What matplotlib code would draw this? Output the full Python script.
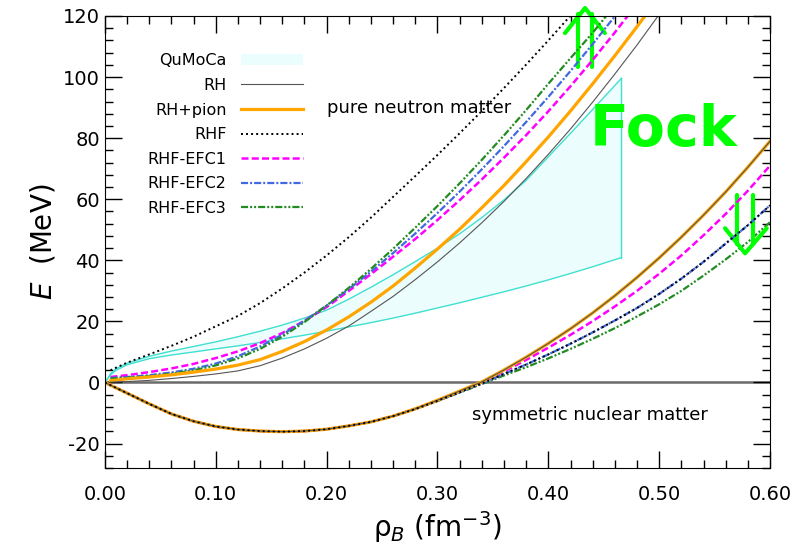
import matplotlib
matplotlib.use("Agg")
import matplotlib.pyplot as plt
from matplotlib.ticker import MultipleLocator, FormatStrFormatter

plt.rcParams['axes.unicode_minus'] = False

# densidades (fm^-3) para materia de neutrones pura
rho_pnm = [0.005, 0.02, 0.04, 0.06, 0.08, 0.10, 0.12, 0.14, 0.16, 0.18, 0.20,
           0.22, 0.24, 0.26, 0.28, 0.30, 0.32, 0.34, 0.36, 0.38, 0.40, 0.42,
           0.44, 0.46, 0.48, 0.50, 0.52]

pnm_rh = [0.1, 0.3, 0.7, 1.3, 2.0, 2.8, 3.8, 5.5, 8.0, 11.0, 14.5,
          18.5, 23.3, 28.2, 33.7, 39.5, 45.7, 52.3, 59.3, 66.8, 74.7, 83.0,
          91.8, 101.0, 110.5, 120.5, 131.0]
pnm_rh_pion = [0.6, 1.2, 1.8, 2.5, 3.4, 4.4, 5.7, 7.5, 10.2, 13.4, 17.2,
               21.5, 26.3, 31.6, 37.5, 43.7, 50.2, 57.2, 64.5, 72.3, 80.4, 88.9,
               97.8, 107.0, 116.5, 126.3, 136.0]
pnm_rhf = [4.0, 6.5, 9.2, 12.0, 15.0, 18.4, 21.8, 26.0, 30.8, 36.0, 41.6,
           47.6, 54.0, 60.8, 67.6, 74.5, 81.6, 88.9, 96.4, 104.1, 112.0, 120.1,
           128.5, 137.0, 146.0, 155.0, 164.0]
pnm_efc1 = [1.8, 2.4, 3.4, 4.6, 6.1, 8.0, 10.2, 12.9, 16.2, 20.2, 24.7,
            30.0, 35.5, 41.2, 47.0, 53.2, 59.7, 66.5, 73.6, 81.0, 88.8, 97.0,
            105.6, 114.6, 124.0, 134.0, 144.0]
pnm_efc2 = [1.5, 1.8, 2.4, 3.3, 4.5, 6.2, 8.6, 11.8, 15.7, 20.2, 25.2,
            30.6, 36.3, 42.4, 48.8, 55.5, 62.5, 69.8, 77.4, 85.3, 93.5, 102.0,
            110.8, 119.9, 129.3, 139.0, 149.0]
pnm_efc3 = [1.3, 1.6, 2.1, 2.9, 4.0, 5.6, 7.9, 11.0, 15.0, 19.8, 25.2,
            31.0, 37.2, 43.8, 50.7, 57.8, 65.2, 72.9, 80.9, 89.2, 97.8, 106.2,
            114.5, 123.5, 133.0, 143.0, 153.0]

# banda QuMoCa
rho_qmc = [0.0, 0.005, 0.01, 0.02, 0.04, 0.06, 0.08, 0.10, 0.12, 0.14, 0.16,
           0.18, 0.20, 0.22, 0.24, 0.26, 0.28, 0.30, 0.32, 0.34, 0.36, 0.38,
           0.40, 0.42, 0.44, 0.466]
qmc_low = [0.0, 2.5, 4.0, 5.8, 7.8, 9.0, 10.0, 11.0, 12.0, 13.1, 14.3,
           15.5, 16.8, 18.2, 19.6, 21.1, 22.7, 24.4, 26.1, 27.9, 29.7, 31.6,
           33.6, 35.7, 37.9, 40.9]
qmc_up = [0.0, 2.8, 4.5, 6.3, 8.6, 10.3, 11.8, 13.3, 15.0, 16.8, 18.8,
          21.1, 23.7, 27.3, 31.2, 35.3, 39.6, 44.0, 48.7, 54.0, 59.8, 66.2,
          73.9, 81.6, 89.4, 99.6]

# materia nuclear simetrica
rho_snm = [0.0, 0.02, 0.04, 0.06, 0.08, 0.10, 0.12, 0.14, 0.16, 0.18, 0.20,
           0.22, 0.24, 0.26, 0.28, 0.30, 0.32, 0.34, 0.36, 0.38, 0.40, 0.42,
           0.44, 0.46, 0.48, 0.50, 0.52, 0.54, 0.56, 0.58, 0.60]
snm_rh_pion = [0.0, -3.5, -7.0, -10.3, -12.7, -14.4, -15.4, -15.9, -16.1, -15.9, -15.3,
               -14.2, -12.9, -11.0, -8.6, -5.8, -2.8, 0.2, 4.1, 8.3, 12.8, 17.6,
               22.8, 28.4, 34.4, 40.8, 47.6, 54.8, 62.4, 70.5, 79.0]
snm_rh = snm_rh_pion
snm_efc1 = [0.0, -3.5, -7.0, -10.3, -12.7, -14.4, -15.4, -15.9, -16.1, -15.9, -15.3,
            -14.2, -12.9, -11.0, -8.6, -5.9, -3.0, 0.0, 3.6, 7.4, 11.4, 15.6,
            20.1, 24.9, 30.0, 35.6, 41.6, 48.2, 55.2, 62.8, 71.0]
snm_efc2 = [0.0, -3.5, -7.0, -10.3, -12.7, -14.4, -15.4, -15.9, -16.1, -15.9, -15.3,
            -14.2, -12.9, -11.0, -8.7, -6.0, -3.2, -0.3, 2.8, 5.9, 9.2, 12.7,
            16.4, 20.3, 24.4, 29.0, 34.0, 39.5, 45.5, 51.5, 58.0]
snm_rhf = snm_efc2
snm_efc3 = [0.0, -3.5, -7.0, -10.3, -12.7, -14.4, -15.4, -15.9, -16.1, -15.9, -15.3,
            -14.2, -12.9, -11.0, -8.7, -6.1, -3.3, -0.5, 2.3, 5.0, 7.9, 11.0,
            14.3, 17.8, 21.6, 25.6, 30.0, 35.0, 40.3, 46.0, 52.5]

fig = plt.figure(figsize=(7.95, 5.51), dpi=100)
ax = fig.add_axes([0.132, 0.1506, 0.8366, 0.8204])

qmc_edge = '#40e0d0'
h_qmc = ax.fill_between(rho_qmc, qmc_low, qmc_up, facecolor='#ebfdfd', edgecolor='none',
                        label='QuMoCa')
ax.plot(rho_qmc, qmc_low, color=qmc_edge, lw=1.0)
ax.plot(rho_qmc, qmc_up, color=qmc_edge, lw=1.0)
ax.plot([rho_qmc[-1], rho_qmc[-1]], [qmc_low[-1], qmc_up[-1]], color=qmc_edge, lw=1.0)

ax.axhline(0, color='#6a6a6a', lw=1.8, zorder=1)

# (nombre, PNM, SNM, zorder SNM, estilo)
estilos = [
    ('RHF-EFC1', pnm_efc1, snm_efc1, 2.1, dict(color='magenta', lw=1.8, dashes=(2.8, 1.3))),
    ('RHF-EFC2', pnm_efc2, snm_efc2, 2.2, dict(color='royalblue', lw=1.6,
                                               dashes=(3.2, 0.9, 0.9, 0.9))),
    ('RHF-EFC3', pnm_efc3, snm_efc3, 2.0, dict(color='forestgreen', lw=1.6,
                                               dashes=(3.2, 0.9, 0.9, 0.9, 0.9, 0.9))),
    ('RH+pion', pnm_rh_pion, snm_rh_pion, 2.5, dict(color='orange', lw=2.3)),
    ('RH', pnm_rh, snm_rh, 2.6, dict(color='#555555', lw=0.8)),
    ('RHF', pnm_rhf, snm_rhf, 2.7, dict(color='black', lw=1.4, dashes=(1.0, 1.6))),
]
handles = {}
for nombre, pnm, snm, z, kw in estilos:
    linea, = ax.plot(rho_pnm, pnm, label=nombre, zorder=2.5, **kw)
    ax.plot(rho_snm, snm, zorder=z, **kw)
    handles[nombre] = linea

orden = ['RH', 'RH+pion', 'RHF', 'RHF-EFC1', 'RHF-EFC2', 'RHF-EFC3']
ax.legend([h_qmc] + [handles[n] for n in orden], ['QuMoCa'] + orden,
          loc='upper right', bbox_to_anchor=(0.31, 0.935), frameon=False,
          markerfirst=False, fontsize=11.5, handlelength=3.9, handletextpad=0.9,
          labelspacing=0.6, borderpad=0)

ax.text(0.2, 90, 'pure neutron matter', fontsize=13, va='center')
ax.text(0.331, -10.8, 'symmetric nuclear matter', fontsize=13, va='center')

# anotacion Fock y flechas
verde = '#00ff00'
ax.text(0.4376, 77.5, 'Fock', fontsize=41, fontweight='bold', color=verde)
kw_f = dict(color=verde, lw=3, solid_capstyle='round', clip_on=False)
ax.plot([0.4268, 0.4268], [103.3, 120.5], **kw_f)
ax.plot([0.4394, 0.4394], [103.3, 120.5], **kw_f)
ax.plot([0.415, 0.4331, 0.451], [114.4, 122.6, 114.4], **kw_f)
ax.plot([0.570, 0.570], [45.5, 61.3], **kw_f)
ax.plot([0.585, 0.585], [45.5, 61.3], **kw_f)
ax.plot([0.5594, 0.5775, 0.597], [50.5, 42.3, 50.5], **kw_f)

ax.set_xlim(0, 0.6)
ax.set_ylim(-28, 120)
ax.xaxis.set_major_locator(MultipleLocator(0.1))
ax.xaxis.set_minor_locator(MultipleLocator(0.02))
ax.yaxis.set_major_locator(MultipleLocator(20))
ax.yaxis.set_minor_locator(MultipleLocator(4))
ax.xaxis.set_major_formatter(FormatStrFormatter('%.2f'))
ax.tick_params(which='both', direction='in', top=True, right=True, labelsize=14)
ax.tick_params(which='major', length=12, width=1)
ax.tick_params(which='minor', length=6, width=1)
ax.tick_params(axis='x', which='major', pad=12)

ax.set_xlabel('ρ$_{B}$ (fm$^{-3}$)', fontsize=20)
ax.set_ylabel('$E$  (MeV)', fontsize=20)

fig.savefig('out.png', dpi=100)
